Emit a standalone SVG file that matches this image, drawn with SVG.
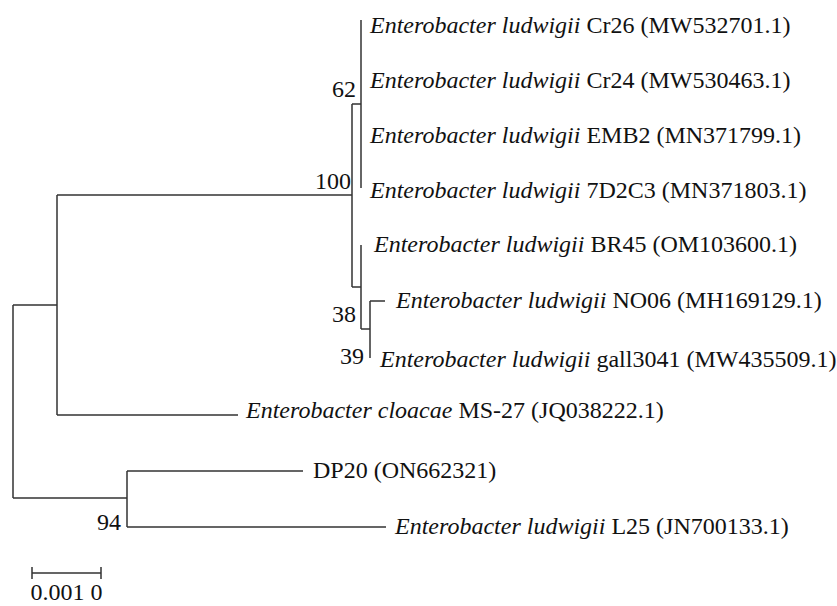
<svg xmlns="http://www.w3.org/2000/svg" width="837" height="606" viewBox="0 0 837 606">
<style>
text{font-family:"Liberation Serif","Times New Roman",serif;font-size:24px;fill:#111}
.i{font-style:italic}
.b{text-anchor:end}
.br{fill:none;stroke:#333;stroke-width:1.5}
</style>
<rect width="837" height="606" fill="#fff"/>
<g id="connectors">
<path class="br" d="M13,305V498M13,305H57M13,498H127"/>
<path class="br" d="M57,195V415M57,195H352M57,415H238"/>
<path class="br" d="M127,471V527M127,471H303M127,527H386"/>
<path class="br" d="M352,104V287M352,104H361M352,287H361"/>
<path class="br" d="M361,20V188"/>
<path class="br" d="M361,245V329M361,329H370"/>
<path class="br" d="M370,301V358M370,301H385"/>
</g>
<g id="leaf-cr26"><text x="370" y="33"><tspan class="i">Enterobacter ludwigii</tspan> Cr26 (MW532701.1)</text></g>
<g id="leaf-cr24"><text x="370" y="88"><tspan class="i">Enterobacter ludwigii</tspan> Cr24 (MW530463.1)</text></g>
<g id="leaf-emb2"><text x="370" y="143"><tspan class="i">Enterobacter ludwigii</tspan> EMB2 (MN371799.1)</text></g>
<g id="leaf-7d2c3"><text x="370" y="198"><tspan class="i">Enterobacter ludwigii</tspan> 7D2C3 (MN371803.1)</text></g>
<g id="leaf-br45"><text x="374" y="252"><tspan class="i">Enterobacter ludwigii</tspan> BR45 (OM103600.1)</text></g>
<g id="leaf-no06"><text x="396" y="308"><tspan class="i">Enterobacter ludwigii</tspan> NO06 (MH169129.1)</text></g>
<g id="leaf-gall3041"><text x="380" y="367"><tspan class="i">Enterobacter ludwigii</tspan> gall3041 (MW435509.1)</text></g>
<g id="leaf-cloacae"><text x="246" y="418"><tspan class="i">Enterobacter cloacae</tspan> MS-27 (JQ038222.1)</text></g>
<g id="leaf-dp20"><text x="313" y="478">DP20 (ON662321)</text></g>
<g id="leaf-l25"><text x="395" y="534"><tspan class="i">Enterobacter ludwigii</tspan> L25 (JN700133.1)</text></g>
<g id="support">
<text class="b" x="356" y="97">62</text>
<text class="b" x="351" y="189">100</text>
<text class="b" x="356" y="322">38</text>
<text class="b" x="364" y="364">39</text>
<text class="b" x="121" y="530">94</text>
</g>
<g id="scale-bar">
<path class="br" d="M32,573H101M32,567V579M101,567V579"/>
<text x="66.5" y="600" text-anchor="middle">0.001 0</text>
</g>
</svg>
